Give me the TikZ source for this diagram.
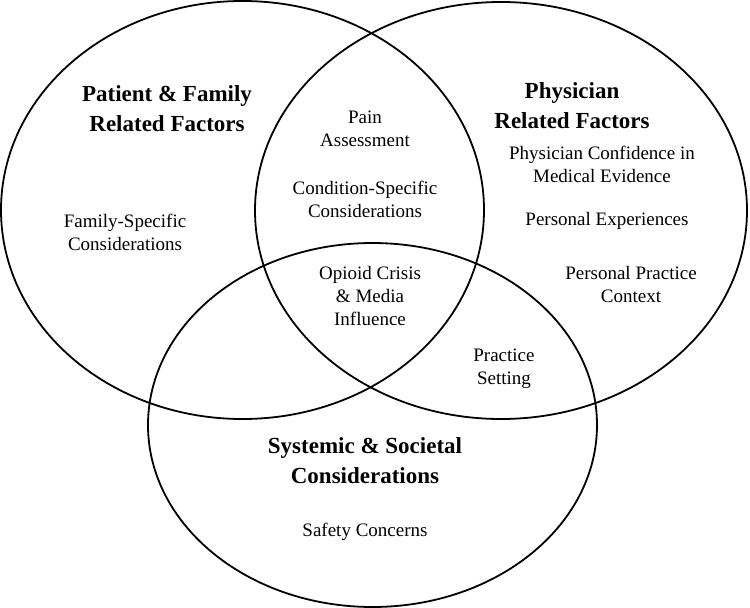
\documentclass[tikz,border=0pt]{standalone}
\usepackage{fontspec}
\setmainfont{Liberation Serif}
\usetikzlibrary{positioning}

\begin{document}
\begin{tikzpicture}[x=1pt,y=-1pt,ring/.style={draw,line width=1.8pt},title/.style={font=\fontsize{23}{30}\selectfont\bfseries,align=center,inner sep=0pt},item/.style={font=\fontsize{19}{23}\selectfont,align=center,inner sep=0pt}]
\useasboundingbox (0,0) rectangle (750,608);
% the three sets
\draw[ring] (242.5,210) ellipse [x radius=241.5pt,y radius=209pt];
\draw[ring] (501,210.5) ellipse [x radius=246pt,y radius=208.5pt];
\draw[ring] (372.5,425) ellipse [x radius=224.5pt,y radius=182pt];
% set titles
\node[title] (patient) at (167,109) {Patient \& Family\\Related Factors};
\node[title] (physician) at (572,106) {Physician\\Related Factors};
\node[title] (systemic) at (365,461) {Systemic \& Societal\\Considerations};
% items
\node[item] (family) at (125,232) {Family-Specific\\Considerations};
\node[item] (pain) at (365,129) {Pain\\Assessment};
\node[item] (condition) at (365,199) {Condition-Specific\\Considerations};
\node[item] (opioid) at (370,296) {Opioid Crisis\\\& Media\\Influence};
\node[item] (confidence) at (602,164) {Physician Confidence in\\Medical Evidence};
\node[item] (experience) at (607,221) {Personal Experiences};
\node[item] (context) at (631,284) {Personal Practice\\Context};
\node[item] (setting) at (504,369) {Practice\\Setting};
\node[item] (safety) at (365,532) {Safety Concerns};
\end{tikzpicture}
\end{document}
